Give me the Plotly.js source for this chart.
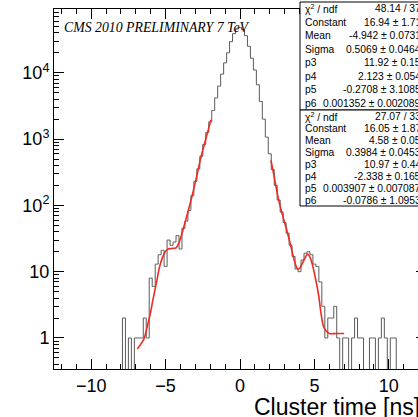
<!DOCTYPE html>
<html><head><meta charset="utf-8">
<script src="https://cdn.plot.ly/plotly-3.0.1.min.js"></script>
<style>html,body{margin:0;padding:0;overflow:hidden;background:#fff;width:418px;height:417px}</style>
</head><body><div id="chart" style="width:432px;height:417px"></div>
<script>
// Histogram: bin centres (0.2 ns bins) and counts
const binCenters = [-8.2,-8.0,-7.8,-7.6,-7.4,-7.2,-7.0,-6.8,-6.6,-6.4,-6.2,-6.0,-5.8,-5.6,-5.4,-5.2,-5.0,-4.8,-4.6,-4.4,-4.2,-4.0,-3.8,-3.6,-3.4,-3.2,-3.0,-2.8,-2.6,-2.4,-2.2,-2.0,-1.8,-1.6,-1.4,-1.2,-1.0,-0.8,-0.6,-0.4,-0.2,0.0,0.2,0.4,0.6,0.8,1.0,1.2,1.4,1.6,1.8,2.0,2.2,2.4,2.6,2.8,3.0,3.2,3.4,3.6,3.8,4.0,4.2,4.4,4.6,4.8,5.0,5.2,5.4,5.6,5.8,6.0,6.2,6.4,6.6,6.8,7.0,7.2,7.4,7.6,7.8,8.0,8.2,8.4,8.6,8.8,9.0,9.2,9.4,9.6,9.8,10.0,10.2,10.4,10.6,10.8];
const counts = [0,0,2,0,1,0,1,1,1,2,1,8,6,13,18,21,12,30,25,28,35,22,45,58,84,140,230,355,550,830,1260,1820,2700,4170,6300,9550,14100,20000,29500,38900,45700,47900,44700,36300,25100,16600,11000,6600,3700,2000,1070,600,347,200,120,79,55,38,25,17,11,10,15,19,20,18,13,12,7,3,1,2,2,3,1,0,1,1,0,1,2,1,1,0,0,1,1,0,1,2,1,0,1,1,0,0];

// Fit curves
const leftFitX = [-6.9,-6.6,-6.43,-6.2,-6.0,-5.86,-5.6,-5.41,-5.2,-5.0,-4.85,-4.6,-4.3,-4.1,-3.96,-3.6,-3.29,-2.95,-2.62,-2.3,-1.95];
const leftFitY = [0.68,0.85,1.0,1.6,2.5,3.7,7.1,11.7,16.6,20.4,21.9,22.4,22.9,27.5,33.9,66,120,251,537,1000,1950];
const rightFitX = [2.08,2.3,2.6,2.9,3.2,3.42,3.7,3.87,4.0,4.2,4.4,4.54,4.7,4.85,5.1,5.3,5.44,5.66,6.0,6.5,7.0];
const rightFitY = [479,269,120,66,38,24,13.5,11.0,11.2,13.5,16.6,18.5,16.6,13.2,7.4,4.2,2.4,1.41,1.17,1.17,1.17];

// Tick labels
const yTickVals = [1,10,100,1000,10000];
const yTickText = ['1','10','10<sup>2</sup>','10<sup>3</sup>','10<sup>4</sup>'];
const yMinorVals = [0.4,0.5,0.6,0.7,0.8,0.9,2,3,4,5,6,7,8,9,20,30,40,50,60,70,80,90,200,300,400,500,600,700,800,900,2000,3000,4000,5000,6000,7000,8000,9000,20000,30000,40000,50000,60000,70000,80000,90000];

// Fit statistics boxes
const box1Labels = ['χ<sup>2</sup> / ndf','Constant','Mean','Sigma','p3','p4','p5','p6'];
const box1Values = ['48.14 / 37','16.94 ± 1.71','-4.942 ± 0.0731','0.5069 ± 0.0464','11.92 ± 0.15','2.123 ± 0.054','-0.2708 ± 3.1085','0.001352 ± 0.002089'];
const box2Labels = ['χ<sup>2</sup> / ndf','Constant','Mean','Sigma','p3','p4','p5','p6'];
const box2Values = ['27.07 / 33','16.05 ± 1.87','4.58 ± 0.05','0.3984 ± 0.0453','10.97 ± 0.44','-2.338 ± 0.165','0.003907 ± 0.007087','-0.0786 ± 1.0953'];

const W = 432, H = 417, ML = 54, MR = 6, MT = 9, MB = 48;
const PW = W - ML - MR, PH = H - MT - MB;
const px = v => (v - ML) / PW;
const py = v => (H - MB - v) / PH;

const histY = counts.map(c => c > 0 ? c : 1e-3);

const traces = [
  {x: binCenters, y: histY, type: 'scatter', mode: 'lines', line: {shape: 'hvh', color: '#5a5a5a', width: 1}, hoverinfo: 'skip'},
  {x: leftFitX, y: leftFitY, type: 'scatter', mode: 'lines', line: {shape: 'spline', color: '#ee2b22', width: 1.6}, hoverinfo: 'skip'},
  {x: rightFitX, y: rightFitY, type: 'scatter', mode: 'lines', line: {shape: 'spline', color: '#ee2b22', width: 1.6}, hoverinfo: 'skip'}
];

const shapes = [];
const annotations = [];
const boxFont = {family: 'Liberation Sans, Arial', size: 10.3, color: 'black'};
function addBox(labels, values, topPx, botPx) {
  shapes.push({type: 'rect', xref: 'paper', yref: 'paper', x0: px(300), x1: px(445), y0: py(topPx), y1: py(botPx), line: {color: 'black', width: 1}, fillcolor: 'white', layer: 'above'});
  const step = (botPx - topPx) / labels.length;
  labels.forEach((l, i) => {
    const yc = py(topPx + step * (i + 0.5));
    annotations.push({xref: 'paper', yref: 'paper', x: px(303), y: yc, xanchor: 'left', yanchor: 'middle', text: l, showarrow: false, font: boxFont});
    annotations.push({xref: 'paper', yref: 'paper', x: px(423), y: yc, xanchor: 'right', yanchor: 'middle', text: values[i], showarrow: false, font: boxFont});
  });
}
addBox(box1Labels, box1Values, 2, 110);
addBox(box2Labels, box2Values, 110, 206);

annotations.push({xref: 'paper', yref: 'paper', x: px(62), y: py(27), xanchor: 'left', yanchor: 'middle', text: '<i>CMS 2010 PRELIMINARY 7 TeV</i>', showarrow: false, font: {family: 'Liberation Serif, Times New Roman', size: 13.8, color: 'black'}});
annotations.push({xref: 'paper', yref: 'paper', x: px(252), y: py(407), xanchor: 'left', yanchor: 'middle', text: 'Cluster time [ns]', showarrow: false, font: {family: 'Liberation Sans, Arial', size: 23, color: 'black'}});

const layout = {
  width: W, height: H,
  margin: {l: ML, r: MR, t: MT, b: MB, pad: 0},
  paper_bgcolor: 'white', plot_bgcolor: 'white',
  showlegend: false,
  xaxis: {
    range: [-12.5, 12.5], tickmode: 'linear', tick0: 0, dtick: 5,
    ticks: 'inside', ticklen: 10, tickwidth: 1, tickcolor: 'black',
    showline: true, linecolor: 'black', linewidth: 1, mirror: 'allticks',
    showgrid: false, zeroline: false,
    tickfont: {family: 'Liberation Sans, Arial', size: 18, color: 'black'},
    minor: {tickmode: 'linear', tick0: 0, dtick: 1, ticks: 'inside', ticklen: 5, tickcolor: 'black', showgrid: false}
  },
  yaxis: {
    type: 'log', range: [-0.468, 4.962],
    tickmode: 'array', tickvals: yTickVals, ticktext: yTickText,
    ticks: 'inside', ticklen: 10, tickwidth: 1, tickcolor: 'black',
    showline: true, linecolor: 'black', linewidth: 1, mirror: 'allticks',
    showgrid: false, zeroline: false,
    tickfont: {family: 'Liberation Sans, Arial', size: 18, color: 'black'},
    minor: {tickmode: 'array', tickvals: yMinorVals, ticks: 'inside', ticklen: 5, tickcolor: 'black', showgrid: false}
  },
  shapes: shapes,
  annotations: annotations
};

Plotly.newPlot('chart', traces, layout, {displayModeBar: false, staticPlot: true});
</script>
</body></html>
